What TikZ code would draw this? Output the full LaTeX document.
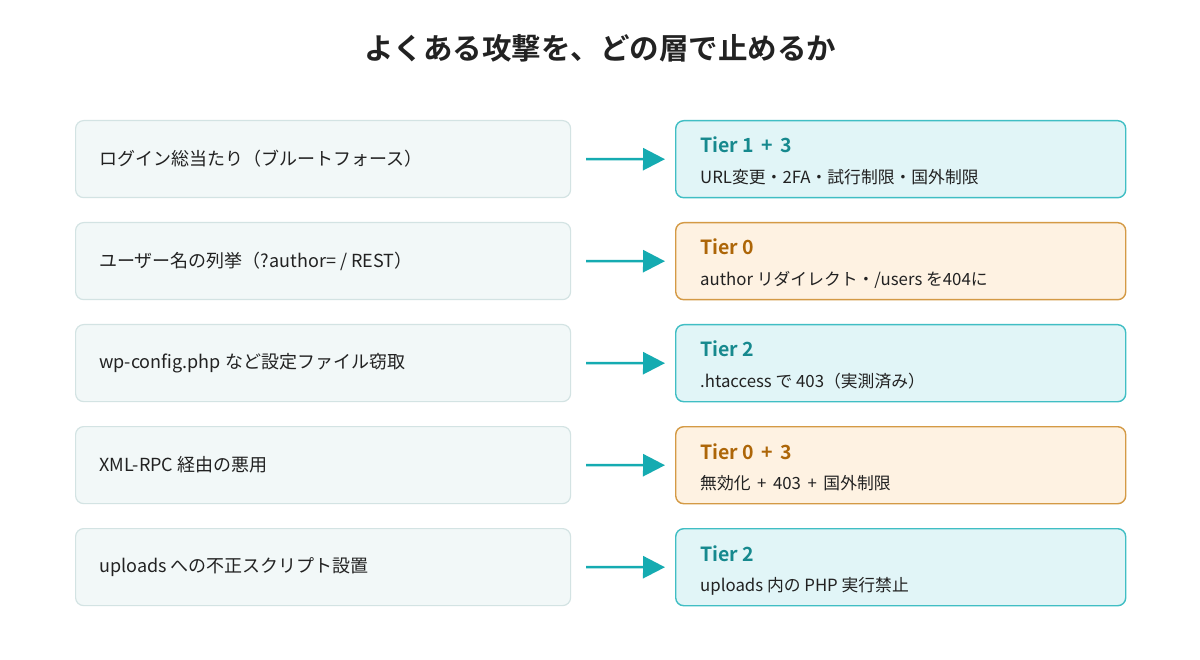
\documentclass[tikz,border=0pt]{standalone}
\usepackage{fontspec}
\setmainfont{Noto Sans CJK JP}
\newfontfamily\cjkbold{Noto Sans CJK JP Bold}
\usetikzlibrary{arrows.meta}
\definecolor{leftfill}{HTML}{F2F8F8}
\definecolor{leftdraw}{HTML}{D3E3E3}
\definecolor{tealfill}{HTML}{E1F5F7}
\definecolor{tealdraw}{HTML}{40BEC4}
\definecolor{orfill}{HTML}{FEF2E2}
\definecolor{ordraw}{HTML}{D49A45}
\definecolor{tealtext}{HTML}{16898E}
\definecolor{ortext}{HTML}{AD6608}
\definecolor{arrowc}{HTML}{15ABB1}
\definecolor{maintext}{HTML}{222222}
\begin{document}
\begin{tikzpicture}[x=1pt,y=-1pt,
  attack/.style={draw=leftdraw,fill=leftfill,line width=1.2pt,rounded corners=8pt,minimum width=495pt,minimum height=77pt,anchor=north west,inner sep=0pt},
  tealbox/.style={draw=tealdraw,fill=tealfill,line width=1.4pt,rounded corners=8pt,minimum width=450pt,minimum height=77pt,anchor=north west,inner sep=0pt},
  orbox/.style={draw=ordraw,fill=orfill,line width=1.4pt,rounded corners=8pt,minimum width=450pt,minimum height=77pt,anchor=north west,inner sep=0pt},
  lbl/.style={anchor=west,font=\fontsize{18pt}{22pt}\selectfont,text=maintext,inner sep=0pt},
  tiert/.style={anchor=base west,font=\cjkbold\fontsize{19.5pt}{23pt}\selectfont,inner sep=0pt},
  subt/.style={anchor=base west,font=\fontsize{16.8pt}{20pt}\selectfont,text=maintext,inner sep=0pt},
  conn/.style={draw=arrowc,line width=2.6pt,-{Triangle[length=22pt,width=22pt]}}
]
\useasboundingbox (0,0) rectangle (1200,660);
\fill[white] (0,0) rectangle (1200,660);
\node[font=\cjkbold\fontsize{29.5pt}{35pt}\selectfont,text=maintext] (title) at (600,48) {よくある攻撃を、どの層で止めるか};

\foreach \i/\y/\sty/\tc/\lt/\tt/\st in {
 1/120/tealbox/tealtext/{ログイン総当たり（ブルートフォース）}/{Tier 1 \,+\, 3}/{URL変更・2FA・試行制限・国外制限},
 2/222/orbox/ortext/{ユーザー名の列挙（?author= / REST）}/{Tier 0}/{author リダイレクト・/users を404に},
 3/324/tealbox/tealtext/{wp-config.php など設定ファイル窃取}/{Tier 2}/{.htaccess で 403（実測済み）},
 4/426/orbox/ortext/{XML-RPC 経由の悪用}/{Tier 0 \,+\, 3}/{無効化 \,+\, 403 \,+\, 国外制限},
 5/528/tealbox/tealtext/{uploads への不正スクリプト設置}/{Tier 2}/{uploads 内の PHP 実行禁止}} {
  \node[attack] (a\i) at (75,\y) {};
  \node[lbl] (al\i) at ([xshift=24pt]a\i.west) {\lt};
  \node[\sty] (r\i) at (675,\y) {};
  \node[tiert,text=\tc] (rt\i) at ([xshift=25pt,yshift=-33pt]r\i.north west) {\tt};
  \node[subt] (rs\i) at ([xshift=25pt,yshift=15pt]r\i.south west) {\st};
  \coordinate (s\i) at ([xshift=15pt]a\i.east);
  \draw[conn] (s\i) -- ([xshift=-10pt]r\i.west);
}
\end{tikzpicture}
\end{document}
